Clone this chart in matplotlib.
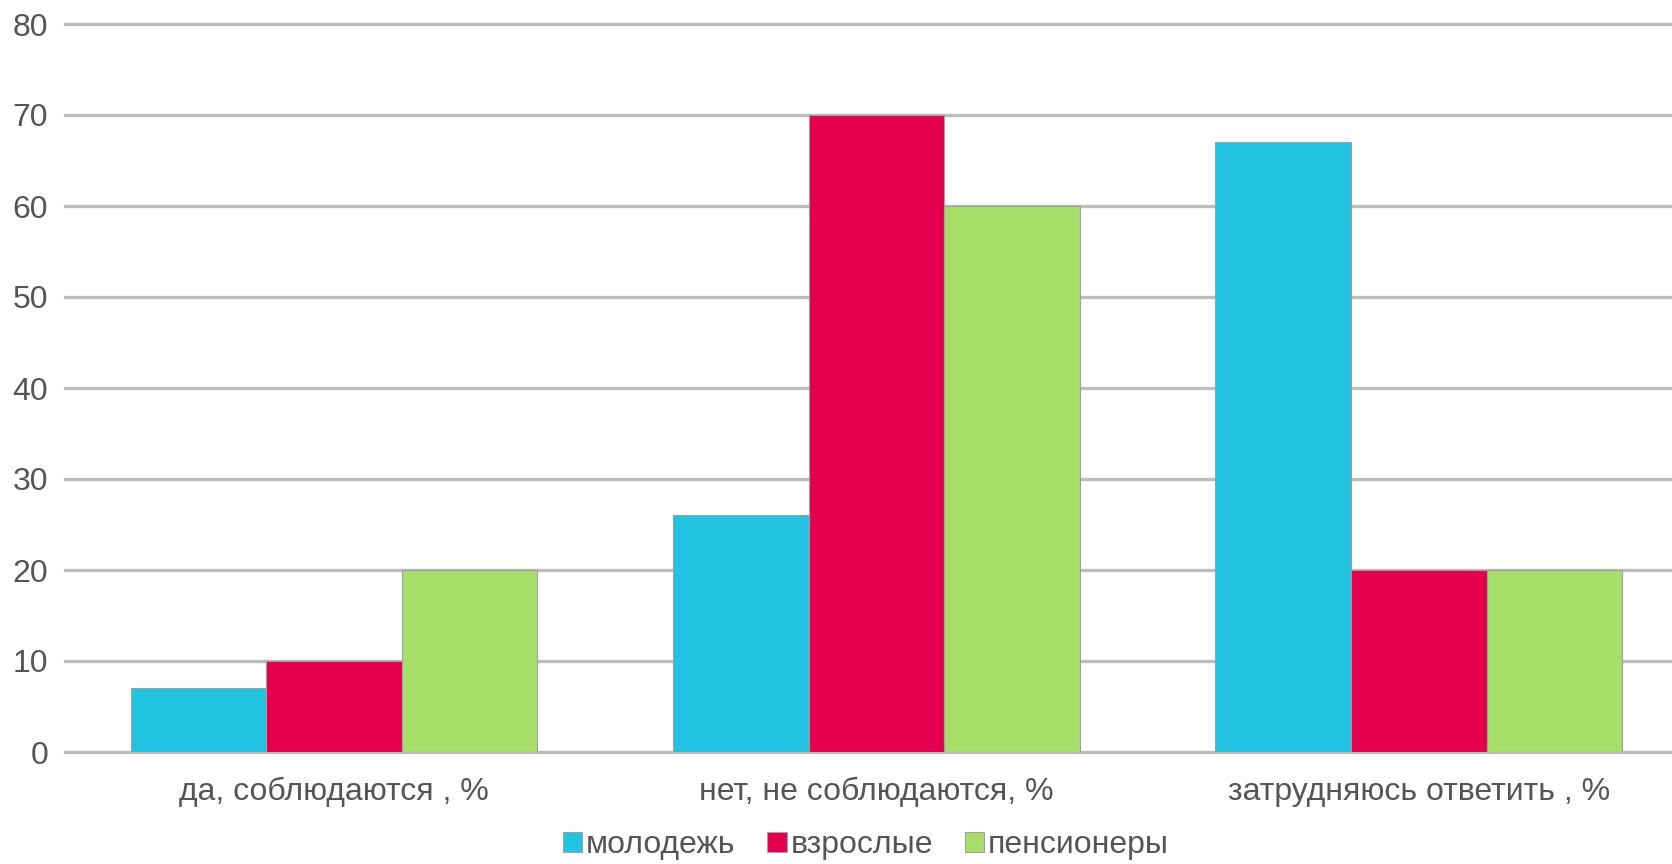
import numpy as np
import matplotlib
matplotlib.use("Agg")
import matplotlib.pyplot as plt

plt.rcParams['font.family'] = ['Liberation Sans', 'DejaVu Sans']

# данные
categories = ["да, соблюдаются , %", "нет, не соблюдаются, %", "затрудняюсь ответить , %"]
series_names = ["молодежь", "взрослые", "пенсионеры"]
molodezh = [7, 26, 67]
vzroslye = [10, 70, 20]
pensionery = [20, 60, 20]
yticks = [0, 10, 20, 30, 40, 50, 60, 70, 80]

colors = ["#22C3E0", "#E4004F", "#A8DE6A"]
text_color = "#555555"

fig = plt.figure(figsize=(16.72, 8.64), dpi=100)
ax = fig.add_axes([65 / 1672, 1 - 752 / 864, 1 - 65 / 1672, (752 - 24) / 864])

x = np.arange(len(categories))
w = 0.25
for i, (vals, name) in enumerate(zip([molodezh, vzroslye, pensionery], series_names)):
    ax.bar(x + (i - 1) * w, vals, width=w, color=colors[i], edgecolor="#A0A0A0",
           linewidth=0.8, label=name, zorder=3)

ax.set_ylim(0, 80)
ax.set_xlim(-0.496, 2.467)
ax.set_yticks(yticks)
ax.set_xticks(x)
ax.set_xticklabels(categories)
ax.yaxis.grid(True, color="#BDBDBD", linewidth=2.4, zorder=0)
for gl in ax.get_ygridlines():
    gl.set_clip_on(False)
ax.set_axisbelow(True)
for s in ax.spines.values():
    s.set_visible(False)
ax.tick_params(axis="both", length=0, labelsize=23, colors=text_color)
ax.tick_params(axis="y", pad=12)
ax.tick_params(axis="x", pad=18)

leg = fig.legend(loc="center", bbox_to_anchor=(866 / 1672, 1 - 845 / 864), ncol=3,
                 frameon=False, fontsize=23, handlelength=0.6, handleheight=0.6,
                 handletextpad=0.12, columnspacing=1.0, labelcolor=text_color,
                 borderpad=0.1)

plt.savefig("out.png", dpi=100)
